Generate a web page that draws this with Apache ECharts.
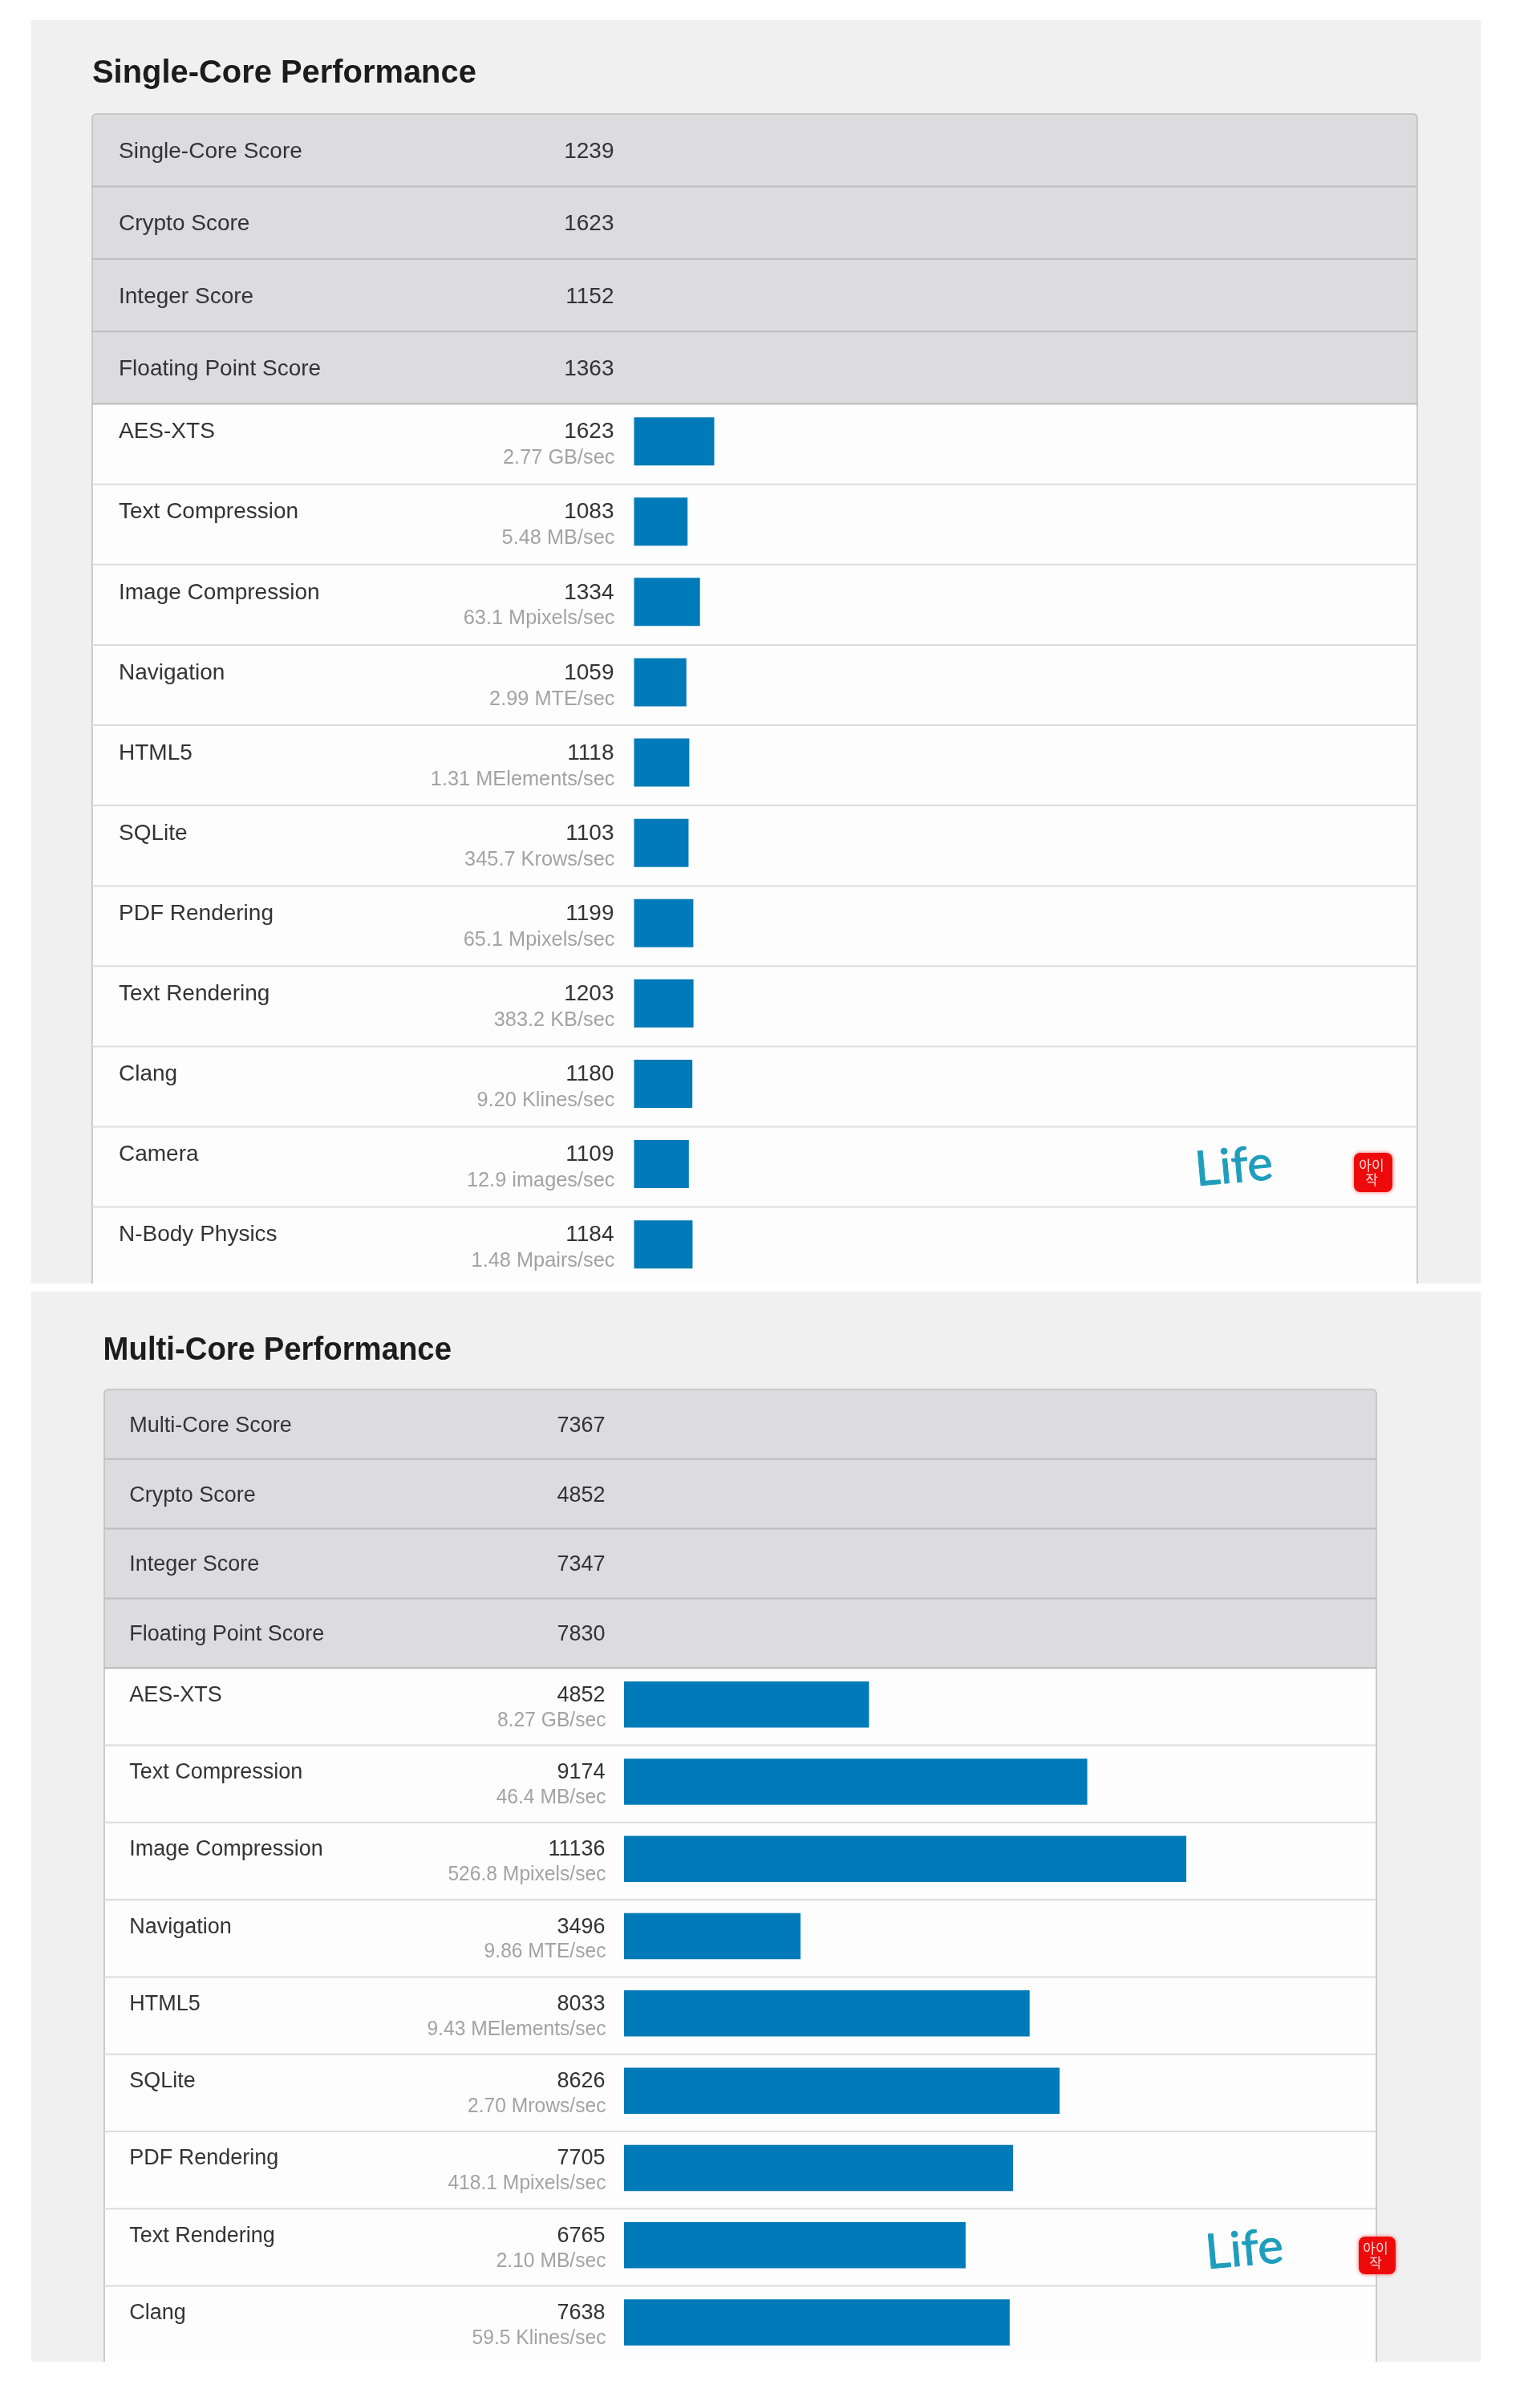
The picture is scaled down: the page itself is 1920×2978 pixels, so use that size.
<!DOCTYPE html>
<html><head><meta charset="utf-8">
<style>html,body{margin:0;padding:0;background:#fff}#c{width:1920px;height:2978px}</style>
<script src="https://cdn.jsdelivr.net/npm/echarts@6/dist/echarts.min.js"></script>
</head><body><div id="c"></div>
<script>
// ---- data ----
const singleTitle = 'Single-Core Performance';
const singleHeaderNames = ['Single-Core Score','Crypto Score','Integer Score','Floating Point Score'];
const singleHeaderScores = [1239,1623,1152,1363];
const singleNames = ['AES-XTS','Text Compression','Image Compression','Navigation','HTML5','SQLite','PDF Rendering','Text Rendering','Clang','Camera','N-Body Physics'];
const singleScores = [1623,1083,1334,1059,1118,1103,1199,1203,1180,1109,1184];
const singleRates = ['2.77 GB/sec','5.48 MB/sec','63.1 Mpixels/sec','2.99 MTE/sec','1.31 MElements/sec','345.7 Krows/sec','65.1 Mpixels/sec','383.2 KB/sec','9.20 Klines/sec','12.9 images/sec','1.48 Mpairs/sec'];

const multiTitle = 'Multi-Core Performance';
const multiHeaderNames = ['Multi-Core Score','Crypto Score','Integer Score','Floating Point Score'];
const multiHeaderScores = [7367,4852,7347,7830];
const multiNames = ['AES-XTS','Text Compression','Image Compression','Navigation','HTML5','SQLite','PDF Rendering','Text Rendering','Clang'];
const multiScores = [4852,9174,11136,3496,8033,8626,7705,6765,7638];
const multiRates = ['8.27 GB/sec','46.4 MB/sec','526.8 Mpixels/sec','9.86 MTE/sec','9.43 MElements/sec','2.70 Mrows/sec','418.1 Mpixels/sec','2.10 MB/sec','59.5 Klines/sec'];

// ---- layout ----
const FONT = '"Liberation Sans", Arial, sans-serif';
const layouts = [
 {panelTop:25, panelBottom:1600, titleX:115, titleY:92, titleSize:41, titleScale:0.973,
  left:115, right:1767, top:142, headH:90.4, rowH:100.1, textX:148, scoreX:765.5, barX:790.5, barH:60, shift:3.5,
  size:28, subSize:26, scale:1.0, subScale:0.975, line1:35, line2:67.5, headDy:2, axisMax:15850},
 {panelTop:1610, panelBottom:2944, titleX:128.6, titleY:1684, titleSize:40, titleScale:0.958,
  left:130, right:1716, top:1732, headH:86.8, rowH:96.3, textX:161.2, scoreX:754.5, barX:778, barH:57.5, shift:2.7,
  size:27, subSize:25, scale:1.0, subScale:0.985, line1:34, line2:65.5, headDy:2, axisMax:14900}
];
const sets = [
 {title:singleTitle, hn:singleHeaderNames, hs:singleHeaderScores, n:singleNames, s:singleScores, r:singleRates},
 {title:multiTitle, hn:multiHeaderNames, hs:multiHeaderScores, n:multiNames, s:multiScores, r:multiRates}
];
const marks = [
 {lifeX:1490, lifeY:1459, stampX:1687, stampY:1435, stampW:50, stampH:53},
 {lifeX:1503, lifeY:2809, stampX:1693, stampY:2786, stampW:48, stampH:51}
];

function txt(x,y,text,size,color,align,scale,weight){
  return {type:'text',x:x,y:y,scaleX:scale,style:{text:text,fill:color,align:align,verticalAlign:'middle',
    font:(weight||'normal')+' '+size+'px '+FONT}};
}
const grids=[],xAxes=[],yAxes=[],series=[],graphic=[];
sets.forEach((d,p)=>{
  const L=layouts[p], M=marks[p];
  const bodyTop=L.top+L.headH*4;
  // page furniture
  graphic.push({type:'rect',z:0,shape:{x:39,y:L.panelTop,width:1807,height:L.panelBottom-L.panelTop},style:{fill:'#f0f0f0'},silent:true});
  graphic.push({type:'rect',z:0,shape:{x:L.left,y:L.top,width:L.right-L.left,height:L.headH*4,r:[5,5,0,0]},style:{fill:'#dcdcde',stroke:'#bdbdbd',lineWidth:1.5},silent:true});
  graphic.push({type:'rect',z:0,shape:{x:L.left,y:bodyTop,width:L.right-L.left,height:L.panelBottom-bodyTop},style:{fill:'#fdfdfd'},silent:true});
  graphic.push({type:'line',z:0,shape:{x1:L.left,y1:bodyTop,x2:L.left,y2:L.panelBottom},style:{stroke:'#bdbdbd',lineWidth:1.5},silent:true});
  graphic.push({type:'line',z:0,shape:{x1:L.right,y1:bodyTop,x2:L.right,y2:L.panelBottom},style:{stroke:'#bdbdbd',lineWidth:1.5},silent:true});
  graphic.push({type:'text',z:5,x:L.titleX,y:L.titleY,scaleX:L.titleScale,style:{text:d.title,fill:'#1c1c1c',align:'left',verticalAlign:'middle',font:'bold '+L.titleSize+'px '+FONT},silent:true});
  // signature
  graphic.push({type:'text',z:6,x:M.lifeX,y:M.lifeY,rotation:0.09,style:{text:'Life',fill:'#1f9dbd',stroke:'#1f9dbd',lineWidth:1,align:'left',verticalAlign:'middle',font:'normal 60px Lato, "Open Sans", sans-serif',letterSpacing:5},silent:true});
  graphic.push({type:'rect',z:6,shape:{x:M.stampX+1,y:M.stampY+2,width:M.stampW-2,height:M.stampH-4,r:8},style:{fill:'#ee0a0a',shadowBlur:5,shadowColor:'#f26a6a'},silent:true});
  graphic.push({type:'text',z:7,x:M.stampX+M.stampW/2-2,y:M.stampY+M.stampH/2,style:{text:'아이\n작',fill:'#ffd9d9',align:'center',verticalAlign:'middle',font:'normal 17px "Noto Sans CJK KR"',lineHeight:18},silent:true});

  // header rows
  const hi=grids.length;
  grids.push({left:L.left,top:L.top,width:L.right-L.left,height:L.headH*4,containLabel:false});
  xAxes.push({gridIndex:hi,type:'value',min:0,max:L.axisMax,show:false});
  yAxes.push({gridIndex:hi,type:'category',inverse:true,show:false,data:d.hn});
  series.push({type:'custom',xAxisIndex:hi,yAxisIndex:hi,z:3,silent:true,coordinateSystem:'cartesian2d',
    data:d.hs.map((v,i)=>[v,i]),
    encode:{x:0,y:1},
    renderItem:(params,api)=>{
      const i=api.value(1), cy=api.coord([0,i])[1];
      const ch=[txt(L.textX,cy+L.headDy,d.hn[i],L.size,'#333333','left',L.scale),
                txt(L.scoreX,cy+L.headDy,String(d.hs[i]),L.size,'#333333','right',L.scale)];
      ch.push({type:'rect',shape:{x:L.left,y:cy+L.headH/2-1,width:L.right-L.left,height:2},style:{fill:'#bdbdbf'}});
      return {type:'group',children:ch};
    }});

  // benchmark rows
  const bi=grids.length;
  grids.push({left:L.barX,top:bodyTop-L.shift,width:L.right-L.barX,height:L.rowH*d.n.length,containLabel:false});
  xAxes.push({gridIndex:bi,type:'value',min:0,max:L.axisMax,show:false});
  yAxes.push({gridIndex:bi,type:'category',inverse:true,show:false,data:d.n});
  series.push({type:'custom',xAxisIndex:bi,yAxisIndex:bi,z:3,silent:true,coordinateSystem:'cartesian2d',
    data:d.s.map((v,i)=>[v,i]),
    encode:{x:0,y:1},
    renderItem:(params,api)=>{
      const i=api.value(1), top=api.coord([0,i])[1]-L.rowH/2+L.shift;
      const ch=[txt(L.textX,top+L.line1,d.n[i],L.size,'#333333','left',L.scale),
                txt(L.scoreX,top+L.line1,String(d.s[i]),L.size,'#333333','right',L.scale),
                txt(L.scoreX+1,top+L.line2,d.r[i],L.subSize,'#a3a3a3','right',L.subScale)];
      if(i>0) ch.push({type:'rect',shape:{x:L.left,y:top-1,width:L.right-L.left,height:2},style:{fill:'#dcdcdc'}});
      return {type:'group',children:ch};
    }});
  series.push({type:'bar',xAxisIndex:bi,yAxisIndex:bi,z:4,silent:true,barWidth:L.barH,data:d.s,itemStyle:{color:'#007ab8'}});
});

const chart=echarts.init(document.getElementById('c'),null,{renderer:'canvas'});
chart.setOption({animation:false,backgroundColor:'#ffffff',grid:grids,xAxis:xAxes,yAxis:yAxes,series:series,graphic:{elements:graphic}});
</script></body></html>
